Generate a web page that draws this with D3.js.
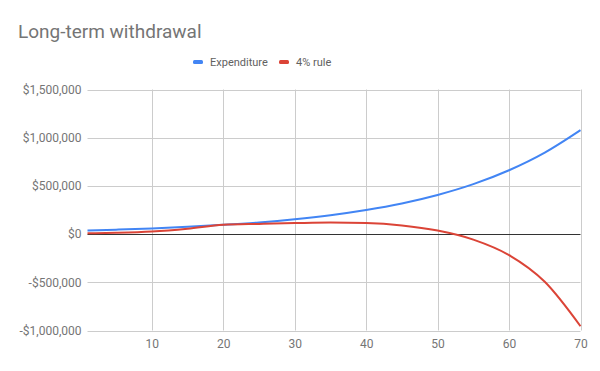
<!DOCTYPE html>
<html>
<head>
<meta charset="utf-8">
<script src="https://cdnjs.cloudflare.com/ajax/libs/d3/7.8.5/d3.min.js"></script>
<style>
  body { margin: 0; background: #fff; }
  text { font-family: Roboto, "Noto Sans", sans-serif; }
</style>
</head>
<body>
<div id="chart"></div>
<script>
// years and values
var years = [1, 5, 10, 15, 20, 25, 30, 35, 40, 45, 50, 55, 60, 65, 70];
var expenditure = [38000, 46000, 58000, 75000, 96000, 121000, 154000, 196000, 250000, 318000, 406000, 518000, 662000, 845000, 1078000];
var fourPct = [8000, 13000, 26000, 55000, 96000, 106000, 114000, 120000, 115000, 90000, 37000, -57000, -218000, -495000, -956000];
var xTicks = [10, 20, 30, 40, 50, 60, 70];
var yTicks = [-1000000, -500000, 0, 500000, 1000000, 1500000];
var seriesNames = ['Expenditure', '4% rule'];
var colors = ['#4285f4', '#db4437'];

var width = 600, height = 371;
var svg = d3.select('#chart').append('svg')
  .attr('width', width)
  .attr('height', height);

var x = d3.scaleLinear().domain([1, 70]).range([87.5, 580.5]);
var y = d3.scaleLinear().domain([-1000000, 1500000]).range([330.5, 89.5]);

var money = function(v){
  var s = d3.format(',')(Math.abs(v));
  return (v < 0 ? '-$' : '$') + s;
};

svg.append('text')
  .attr('x', 18).attr('y', 38)
  .attr('fill', '#757575')
  .style('font-size', '19px')
  .text('Long-term withdrawal');

// grid
svg.append('g').selectAll('line').data(yTicks.filter(function(d){ return d !== 0; }))
  .enter().append('line')
  .attr('x1', x(1)).attr('x2', x(70))
  .attr('y1', function(d){ return Math.round(y(d)) + 0.5; })
  .attr('y2', function(d){ return Math.round(y(d)) + 0.5; })
  .attr('stroke', '#cccccc');

svg.append('g').selectAll('line').data(xTicks)
  .enter().append('line')
  .attr('x1', function(d){ return Math.round(x(d)) + 0.5; })
  .attr('x2', function(d){ return Math.round(x(d)) + 0.5; })
  .attr('y1', y(1500000)).attr('y2', y(-1000000))
  .attr('stroke', '#cccccc');

// axes labels
var yAxis = d3.axisLeft(y).tickValues(yTicks).tickFormat(money).tickSize(0).tickPadding(6);
var gy = svg.append('g').attr('transform', 'translate(' + x(1) + ',0)').call(yAxis);
gy.select('.domain').remove();
gy.selectAll('text').attr('fill', '#757575').style('font-size', '12px');

var xAxis = d3.axisBottom(x).tickValues(xTicks).tickFormat(d3.format('d')).tickSize(0).tickPadding(9);
var gx = svg.append('g').attr('transform', 'translate(0,' + y(-1000000) + ')').call(xAxis);
gx.select('.domain').remove();
gx.selectAll('text').attr('fill', '#757575').style('font-size', '12px');

// zero line
svg.append('line')
  .attr('x1', x(1)).attr('x2', x(70))
  .attr('y1', Math.round(y(0)) + 0.5).attr('y2', Math.round(y(0)) + 0.5)
  .attr('stroke', '#333333');

var line = d3.line()
  .x(function(d){ return x(d[0]); })
  .y(function(d){ return y(d[1]); })
  .curve(d3.curveMonotoneX);

[expenditure, fourPct].forEach(function(vals, i){
  svg.append('path')
    .datum(years.map(function(t, j){ return [t, vals[j]]; }))
    .attr('d', line)
    .attr('fill', 'none')
    .attr('stroke', colors[i])
    .attr('stroke-width', 2);
});

// legend
var legendX = [193, 279];
var lg = svg.append('g').selectAll('g').data(seriesNames).enter().append('g')
  .attr('transform', function(d, i){ return 'translate(' + legendX[i] + ',62)'; });
lg.append('rect')
  .attr('x', 0).attr('y', -2).attr('width', 10).attr('height', 4).attr('rx', 1.5)
  .attr('fill', function(d, i){ return colors[i]; });
lg.append('text')
  .attr('x', 17).attr('y', 4)
  .attr('fill', '#616161')
  .style('font-size', '11px')
  .text(function(d){ return d; });
</script>
</body>
</html>
